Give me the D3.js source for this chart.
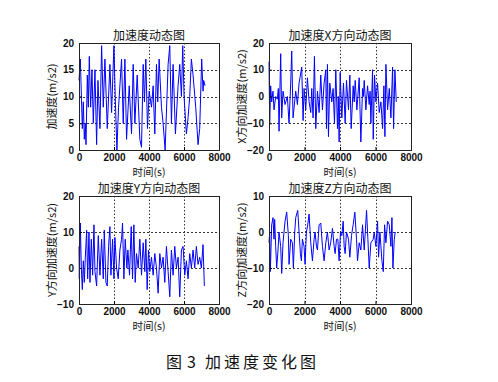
<!DOCTYPE html>
<html>
<head>
<meta charset="utf-8">
<script src="https://cdn.jsdelivr.net/npm/d3@7"></script>
<style>
  body { margin: 0; background: #fff; }
  svg { display: block; }
  .tick text { font-family: "Liberation Sans", Arial, sans-serif; font-size: 10px; font-weight: bold; fill: #111; }
  .cjk { font-family: "Noto Sans CJK SC", sans-serif; fill: #111; }
</style>
</head>
<body>
<div id="chart"></div>
<script>
// time stamps (s) and values, one pair of arrays per panel
const tMag = [0,76,190,247,304,361,400,475,532,589,665,741,817,912,1007,1083,1197,1292,1387,1482,1615,1767,1862,1995,2071,2166,2261,2432,2527,2622,2717,2869,3002,3097,3192,3325,3477,3572,3667,3740,3819,3914,4009,4142,4237,4332,4427,4500,4579,4712,4807,4921,5092,5187,5282,5377,5510,5662,5757,5852,5928,6004,6137,6232,6327,6422,6517,6669,6802,6897,7011,7087,7125,7200];
const vMag = [13,17,4,9,2,5,1,14,8,17.5,8,15,5,15,1,13,4,19.5,8,17,4,16,7,19.5,10,0,8,17,5,17,2,12,3,16,5,14,2,0.5,16,9,17,4,11,8,12,3,16,9,17,8,5,0,16,19.5,5,16,3,12,16,10,19.5,10,3,6,10,17,14,8,1,4,17,11,13,12];

const tX = [0,38,94,151,226,282,376,470,527,565,659,715,790,903,1035,1129,1223,1280,1355,1506,1600,1694,1844,1920,1976,2070,2164,2258,2353,2409,2484,2560,2635,2729,2823,2917,3011,3105,3199,3237,3294,3350,3425,3538,3613,3689,3764,3858,3905,3952,4009,4103,4197,4291,4366,4479,4554,4630,4743,4800,4856,4950,5081,5176,5270,5317,5364,5458,5552,5646,5693,5740,5834,5872,5947,6022,6117,6211,6305,6399,6474,6531,6587,6681,6775,6869,6963,7020,7095,7170];
const vX = [13,-10,4,-2,2,-5,0,-1,3,-13,16,-8,2,-3,0,-10,5,17,-8,2,-3,5,11,-9,3,-5,7,-2,-6,3,-8,15,-12,2,-6,8,-5,5,10,-12,12,-15,5,-2,3,-10,10,-12,0,-17,9,-8,5,-10,6,-5,8,-12,4,-2,6,-5,7,-17,3,0,6,-5,4,-3,2,-10,10,-16,8,-2,5,-6,-2,-12,4,-15,12,-5,3,-8,11,-12,10,-2];

const tY = [0,19,76,133,190,247,304,361,437,494,570,627,703,779,855,912,1007,1102,1197,1292,1387,1444,1539,1615,1691,1767,1824,1919,1995,2052,2147,2242,2337,2432,2489,2565,2641,2736,2793,2888,2983,3059,3135,3211,3287,3382,3477,3572,3667,3762,3819,3895,3971,4047,4142,4237,4332,4427,4522,4617,4712,4807,4902,4997,5092,5187,5282,5377,5472,5567,5662,5757,5852,5947,6042,6137,6232,6327,6422,6517,6612,6707,6802,6897,6992,7087,7163];
const vY = [6,-3,12.5,0,-6,2,-4,3,10.5,-3,10,-4,8,-2,12,-1,-5,9,-2,8,-3,10.5,-4,-5,6,11.5,-2,8,-3,8.5,0,-3,5,8,12.5,-3,8,0,5,-2,11.5,-3,12,-4,4,0,8,-2,7,-1,8,-6,5,-1,3,-2,4,0,-7,4,0,3,-4,6,-1,-8,5,-2,6,0,3,-8,5,6,-2,2,-3,4,0,5,0,6,1,3,0,6.5,-5];

const tZ = [0,38,75,151,226,282,320,376,433,508,565,659,715,790,903,997,1091,1129,1223,1317,1374,1449,1506,1618,1694,1769,1825,1882,1976,2032,2107,2183,2258,2353,2447,2541,2597,2673,2729,2823,2917,3011,3105,3199,3293,3387,3476,3576,3670,3726,3802,3877,3952,4028,4103,4178,4235,4291,4366,4479,4554,4648,4742,4837,4931,4987,5081,5176,5270,5364,5496,5571,5646,5740,5872,5928,6022,6117,6173,6249,6361,6437,6512,6587,6681,6775,6869,6926,6982,7058,7114];
const vZ = [-3,0,-11,2,4,-2,3.5,-4,-10,-5,0,-4,-11.5,-3,3,5.5,-1,-9,-2,-3,-10,0,4,6,0,-6,-8,-2,-4,-9,0,2,5,-3,-8,-2,0,-4,-5,2,2.5,-4,-8,-3,0,-5,-3,1,-4,-6,-2,-2,-8,0,-1,3,-4,-6,0,-2,-7,-1,2,5.5,-2,-8,-3,-5,2,-5,6,-2,-10,-3,-2,0,-4,3,-7,0,-8,-11,2,-3,3,2,-4,4,-10,-2,0];

const xTicks = [0, 2000, 4000, 6000, 8000];

const panels = [
    {title: "加速度动态图", ylabel: "加速度(m/s2)", t: tMag, v: vMag, yDomain: [0, 20], yTicks: [0, 5, 10, 15, 20], box: [79, 43, 219, 150]},
    {title: "加速度X方向动态图", ylabel: "X方向加速度(m/s2)", t: tX, v: vX, yDomain: [-20, 20], yTicks: [-20, -10, 0, 10, 20], box: [269, 43, 411, 150]},
    {title: "加速度Y方向动态图", ylabel: "Y方向加速度(m/s2)", t: tY, v: vY, yDomain: [-10, 20], yTicks: [-10, 0, 10, 20], box: [79, 196, 219, 304]},
    {title: "加速度Z方向动态图", ylabel: "Z方向加速度(m/s2)", t: tZ, v: vZ, yDomain: [-20, 10], yTicks: [-20, -10, 0, 10], box: [269, 196, 411, 304]}
];

const W = 498, H = 382;

const svg = d3.select("#chart").append("svg")
    .attr("width", W)
    .attr("height", H);

svg.append("rect").attr("width", W).attr("height", H).attr("fill", "#fff");

panels.forEach(p => {
    const [x0, y0, x1, y1] = p.box;
    const x = d3.scaleLinear().domain([0, 8000]).range([x0, x1]);
    const y = d3.scaleLinear().domain(p.yDomain).range([y1, y0]);
    const g = svg.append("g");

    // dotted grid at the inner ticks
    g.append("g").selectAll("line.vg")
        .data(xTicks.slice(1, -1))
        .enter().append("line")
        .attr("x1", d => Math.round(x(d)) + 0.5).attr("x2", d => Math.round(x(d)) + 0.5)
        .attr("y1", y0).attr("y2", y1)
        .attr("stroke", "#333").attr("stroke-width", 1).attr("stroke-dasharray", "1.5,2");
    g.append("g").selectAll("line.hg")
        .data(p.yTicks.slice(1, -1))
        .enter().append("line")
        .attr("y1", d => Math.round(y(d)) + 0.5).attr("y2", d => Math.round(y(d)) + 0.5)
        .attr("x1", x0).attr("x2", x1)
        .attr("stroke", "#333").attr("stroke-width", 1).attr("stroke-dasharray", "2,2");

    // the signal
    const line = d3.line().x((d, i) => x(p.t[i])).y(d => y(d));
    g.append("path")
        .datum(p.v)
        .attr("d", line)
        .attr("fill", "none")
        .attr("stroke", "#0000ff")
        .attr("stroke-width", 1);

    // axes with inward ticks like matlab
    g.append("g")
        .attr("transform", `translate(0,${y1})`)
        .call(d3.axisBottom(x).tickValues(xTicks).tickFormat(d3.format("d")).tickSizeInner(-3).tickSizeOuter(0).tickPadding(4))
        .call(a => a.select(".domain").remove());
    g.append("g")
        .attr("transform", `translate(${x0},0)`)
        .call(d3.axisLeft(y).tickValues(p.yTicks).tickFormat(d3.format("d")).tickSizeInner(-3).tickSizeOuter(0).tickPadding(5))
        .call(a => a.select(".domain").remove());

    g.append("rect")
        .attr("x", x0 + 0.5).attr("y", y0 + 0.5)
        .attr("width", x1 - x0).attr("height", y1 - y0)
        .attr("fill", "none").attr("stroke", "#222").attr("stroke-width", 1);

    g.append("text")
        .attr("class", "cjk")
        .attr("x", (x0 + x1) / 2)
        .attr("y", y0 - 3.5)
        .attr("text-anchor", "middle")
        .style("font-size", "12px")
        .text(p.title);

    g.append("text")
        .attr("class", "cjk")
        .attr("x", (x0 + x1) / 2)
        .attr("y", y1 + 26)
        .attr("text-anchor", "middle")
        .style("font-size", "10.5px")
        .text("时间(s)");

    g.append("text")
        .attr("class", "cjk")
        .attr("transform", `translate(${x0 - 23},${(y0 + y1) / 2}) rotate(-90)`)
        .attr("text-anchor", "middle")
        .style("font-size", "11px")
        .text(p.ylabel);
});

// figure caption
const cap = svg.append("text")
    .attr("class", "cjk")
    .attr("y", 368)
    .style("font-size", "16px");
cap.append("tspan").attr("x", 166).text("图");
cap.append("tspan").attr("x", 187).text("3");
cap.append("tspan").attr("x", 205).style("letter-spacing", "3px").text("加速度变化图");
</script>
</body>
</html>
